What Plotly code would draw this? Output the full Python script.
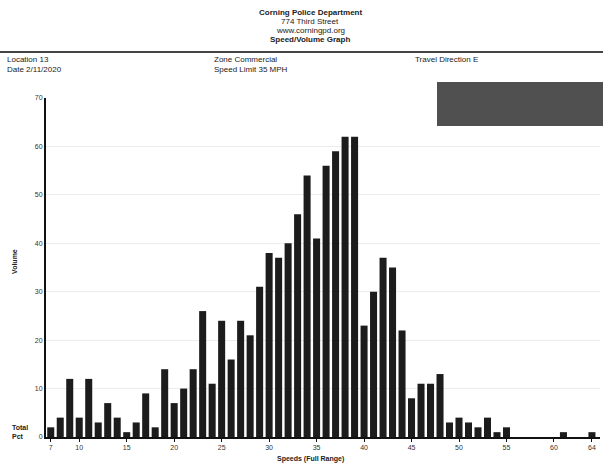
import plotly.graph_objects as go

# ---- data ----
speeds = list(range(7, 65))
volumes = [2, 4, 12, 4, 12, 3, 7, 4, 1, 3, 9, 2, 14, 7, 10, 14, 26, 11, 24, 16,
           24, 21, 31, 38, 37, 40, 46, 54, 41, 56, 59, 62, 62, 23, 30, 37, 35, 22, 8, 11,
           11, 13, 3, 4, 3, 2, 4, 1, 2, 0, 0, 0, 0, 0, 1, 0, 0, 1]
x_tickvals = [7, 10, 15, 20, 25, 30, 35, 40, 45, 50, 55, 60, 64]
x_ticktext = ["7", "10", "15", "20", "25", "30", "35", "40", "45", "50", "55", "60", "64"]
y_tickvals = [0, 10, 20, 30, 40, 50, 60, 70]

header_lines = ["<b>Corning Police Department</b>", "774 Third Street",
                "www.corningpd.org", "<b>Speed/Volume Graph</b>"]
info_left = ["Location 13", "Date 2/11/2020"]
info_mid = ["Zone Commercial", "Speed Limit 35 MPH"]
info_right = ["Travel Direction E"]

W, H = 603, 466
L, R, T, B = 46, 3, 98, 29
PW, PH = W - L - R, H - T - B

def px(x):
    return (x - L) / PW

def py(y):
    return (H - B - y) / PH

FONT = "Liberation Sans"

fig = go.Figure()
fig.add_trace(go.Bar(x=speeds, y=volumes, marker=dict(color="#1c1c1c", line=dict(width=0)),
                     width=0.74, showlegend=False))

ann = []
for i, t in enumerate(header_lines):
    ann.append(dict(text=t, x=px(310), y=py(13 + i * 8.7), xref="paper", yref="paper",
                    showarrow=False, xanchor="center", yanchor="middle",
                    font=dict(family=FONT, size=8, color="#222")))
for i, t in enumerate(info_left):
    ann.append(dict(text=t, x=px(5), y=py(59 + i * 10), xref="paper", yref="paper",
                    showarrow=False, xanchor="left", yanchor="middle",
                    font=dict(family=FONT, size=8, color="#222")))
for i, t in enumerate(info_mid):
    ann.append(dict(text=t, x=px(212), y=py(59 + i * 10), xref="paper", yref="paper",
                    showarrow=False, xanchor="left", yanchor="middle",
                    font=dict(family=FONT, size=8, color="#222")))
for i, t in enumerate(info_right):
    ann.append(dict(text=t, x=px(413), y=py(59 + i * 10), xref="paper", yref="paper",
                    showarrow=False, xanchor="left", yanchor="middle",
                    font=dict(family=FONT, size=8, color="#222")))
ann.append(dict(text="<b>Volume</b>", x=px(14), y=py(262), xref="paper", yref="paper",
                showarrow=False, textangle=-90, xanchor="center", yanchor="middle",
                font=dict(family=FONT, size=7, color="#222")))
ann.append(dict(text="<b>Speeds (Full Range)</b>", x=px(310), y=py(459), xref="paper", yref="paper",
                showarrow=False, xanchor="center", yanchor="middle",
                font=dict(family=FONT, size=7, color="#222")))
ann.append(dict(text="<b>Total</b><br><b>Pct</b>", x=px(10), y=py(432), xref="paper", yref="paper",
                showarrow=False, xanchor="left", yanchor="middle", align="left",
                font=dict(family=FONT, size=7, color="#222")))

shapes = [
    dict(type="line", xref="paper", yref="paper", x0=px(0), x1=px(603), y0=py(52), y1=py(52),
         line=dict(color="#444", width=2)),
    dict(type="rect", xref="paper", yref="paper", x0=px(437), x1=px(603), y0=py(126), y1=py(82),
         fillcolor="#505050", line=dict(width=0), layer="above"),
]

fig.update_layout(
    width=W, height=H, margin=dict(l=L, r=R, t=T, b=B),
    paper_bgcolor="white", plot_bgcolor="white",
    font=dict(family=FONT, size=7, color="#333"),
    bargap=0.26,
    annotations=ann, shapes=shapes,
    xaxis=dict(range=[6.5, 64.85], tickvals=x_tickvals, ticktext=x_ticktext,
               showgrid=False, zeroline=False, showline=True, linecolor="#111", linewidth=2,
               ticks="outside", ticklen=3, tickcolor="#111", tickfont=dict(size=7, color="#333")),
    yaxis=dict(range=[0, 70], tickvals=y_tickvals, showgrid=True, gridcolor="#ececec",
               zeroline=False, showline=True, linecolor="#111", linewidth=2,
               ticks="", tickfont=dict(size=7, color="#333")),
)

fig.write_html("out.html", config={"displayModeBar": False},
               post_script="document.body.style.margin='0';document.body.style.overflow='hidden';")
